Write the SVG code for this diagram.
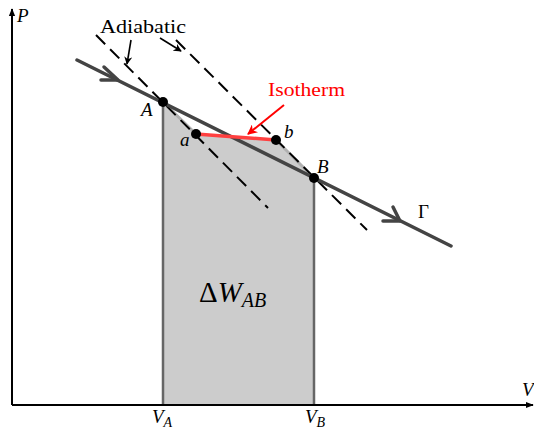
<svg xmlns="http://www.w3.org/2000/svg" width="534" height="435" viewBox="0 0 534 435">
<style>
text{font-family:"Liberation Serif","DejaVu Serif",serif;fill:#000}
.it{font-style:italic}
.dash{stroke:#000;stroke-width:2;stroke-dasharray:13 7;fill:none}
.gam{stroke:#444;stroke-width:3.5;fill:none;stroke-linecap:round}
.chev{stroke:#444;stroke-width:3.5;fill:none;stroke-linecap:round;stroke-linejoin:round}
.vert{stroke:#666;stroke-width:2.5}
.axis{stroke:#000;stroke-width:2;fill:none}
.pt{fill:#000}
</style>
<defs>
<marker id="ah" viewBox="0 0 10 10" refX="9" refY="5" markerWidth="8" markerHeight="8" markerUnits="userSpaceOnUse" orient="auto">
<path d="M0,0 L10,5 L0,10 L3,5 Z" fill="#000"/>
</marker>
<marker id="ahr" viewBox="0 0 10 10" refX="9" refY="5" markerWidth="10" markerHeight="10" markerUnits="userSpaceOnUse" orient="auto">
<path d="M0,0 L10,5 L0,10 L3,5 Z" fill="#f00"/>
</marker>
<marker id="axh" viewBox="0 0 10 10" refX="9" refY="5" markerWidth="8" markerHeight="8" markerUnits="userSpaceOnUse" orient="auto">
<path d="M0,1 L10,5 L0,9 Z" fill="#000"/>
</marker>
</defs>
<g id="region">
<polygon points="163,102 196,134 276,140 314,178 314,405 163,405" fill="#cccccc"/>
<path d="M163,102 L196,134 M276,140 L314,178" stroke="#b0b0b0" stroke-width="3" fill="none"/>
<line class="vert" x1="163" y1="102" x2="163" y2="405"/>
<line class="vert" x1="314" y1="178" x2="314" y2="405"/>
</g>
<g id="axes">
<line class="axis" x1="12" y1="405" x2="12" y2="9" marker-end="url(#axh)"/>
<line class="axis" x1="12" y1="405" x2="533" y2="405" marker-end="url(#axh)"/>
<text class="it" x="17" y="22" font-size="19">P</text>
<text class="it" x="522" y="396" font-size="19">V</text>
</g>
<g id="connectors">
<line id="adiabat1" class="dash" x1="96" y1="35" x2="268" y2="208"/>
<line id="adiabat2" class="dash" x1="176" y1="40" x2="367" y2="230"/>
<line id="gamma" class="gam" x1="77" y1="60" x2="451" y2="246"/>
<path class="chev" d="M104,67 L118,80 L101,80"/>
<path class="chev" d="M393,207 L400,221 L383,221"/>
<line id="isotherm" x1="196" y1="134" x2="276" y2="140" stroke="#ff4040" stroke-width="3.5"/>
<line x1="131" y1="40" x2="127" y2="64" stroke="#000" stroke-width="1.6" marker-end="url(#ah)"/>
<line x1="160" y1="38" x2="181" y2="51" stroke="#000" stroke-width="1.6" marker-end="url(#ah)"/>
<line x1="284" y1="105" x2="248" y2="134" stroke="#f00" stroke-width="2" marker-end="url(#ahr)"/>
</g>
<g id="nodeA"><circle class="pt" cx="163" cy="102" r="5"/><text class="it" x="141" y="116" font-size="19">A</text></g>
<g id="nodea"><circle class="pt" cx="196" cy="134" r="5"/><text class="it" x="180" y="146" font-size="19">a</text></g>
<g id="nodeb"><circle class="pt" cx="276" cy="140" r="5"/><text class="it" x="284" y="138" font-size="19">b</text></g>
<g id="nodeB"><circle class="pt" cx="314" cy="178" r="5"/><text class="it" x="317" y="173" font-size="19">B</text></g>
<g id="labels">
<text x="100" y="33" font-size="19" textLength="86" lengthAdjust="spacingAndGlyphs">Adiabatic</text>
<text x="268" y="96" font-size="19" style="fill:#f00" textLength="77" lengthAdjust="spacingAndGlyphs">Isotherm</text>
<text x="418" y="218" font-size="19">Γ</text>
<text x="152" y="423" font-size="19" class="it">V<tspan font-size="14" dy="4">A</tspan></text>
<text x="305" y="423" font-size="19" class="it">V<tspan font-size="14" dy="4">B</tspan></text>
<text x="199" y="302" font-size="29">Δ<tspan class="it">W</tspan><tspan class="it" font-size="20" dy="5">AB</tspan></text>
</g>
</svg>
